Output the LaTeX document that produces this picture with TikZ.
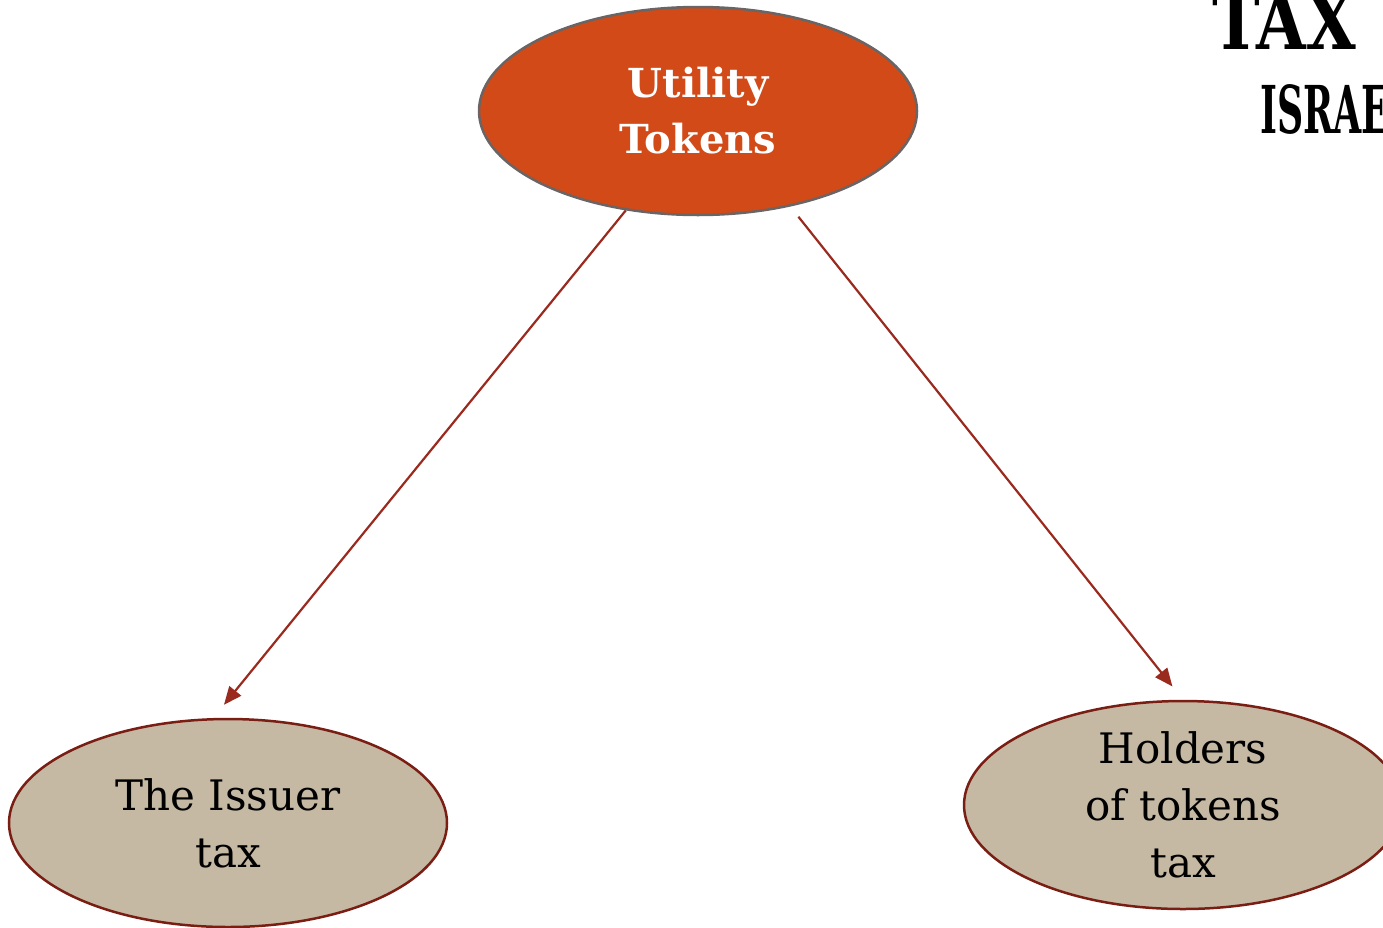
\documentclass[tikz,border=0pt]{standalone}
\usepackage{fontspec}
\setmainfont{DejaVu Serif}
\usepackage{graphicx}
\usetikzlibrary{shapes.geometric,arrows.meta}
\definecolor{rust}{HTML}{D14A17}
\definecolor{sand}{HTML}{C5B9A4}
\definecolor{rimgray}{HTML}{6B6464}
\definecolor{darkrust}{HTML}{7A1E14}
\definecolor{arrowred}{HTML}{9A2A1E}
\tikzset{
	bubble/.style={ellipse,minimum width=438pt,minimum height=208pt,inner sep=0pt,line width=2.5pt,align=center},
	head/.style={bubble,draw=rimgray,fill=rust,text=white,font=\bfseries\fontsize{40}{56}\selectfont},
	leaf/.style={bubble,draw=darkrust,fill=sand,text=black,font=\fontsize{42}{57}\selectfont},
	link/.style={draw=arrowred,line width=2.2pt,-{Triangle[length=18pt,width=15pt]},shorten >=17pt}
}

\begin{document}
\begin{tikzpicture}[x=1pt,y=-1pt]
	\useasboundingbox (0,0) rectangle (1383,927);
	\clip (0,0) rectangle (1383,927);
	% title in the corner
	\node[anchor=base west,inner sep=0pt,font=\bfseries\fontsize{80}{80}\selectfont] (tax) at (1212,49) {\scalebox{0.8}[1]{TAX}};
	\node[anchor=base west,inner sep=0pt,font=\bfseries\fontsize{66}{66}\selectfont] (israel) at (1260,133) {\scalebox{0.55}[1]{ISRAE}};
	\node[head] (utility) at (698,111) {Utility\\Tokens};
	\node[leaf] (issuer) at (228,823) {The Issuer\\tax};
	\node[leaf] (holders) at (1183,805) {Holders\\of tokens\\tax};
	\draw[link] (utility.234) -- (issuer.98);
	\draw[link,shorten <=13pt] (utility.314) -- (holders.north);
\end{tikzpicture}
\end{document}
